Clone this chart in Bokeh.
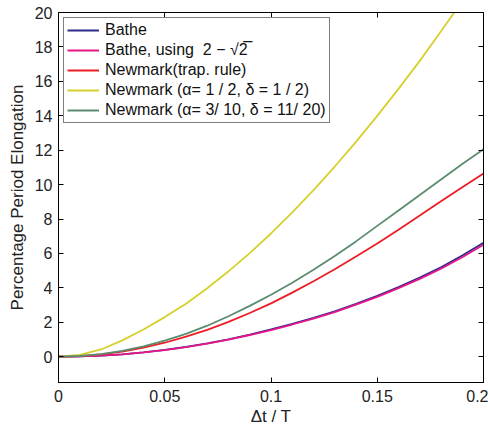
from bokeh.plotting import figure
from bokeh.models import Range1d, LinearAxis, FixedTicker, Legend, LegendItem, CustomJSTickFormatter
from bokeh.embed import file_html
from bokeh.resources import INLINE

# Data
dt_T = [0.0, 0.01, 0.02, 0.03, 0.04, 0.05, 0.06, 0.07, 0.08, 0.09, 0.10,
        0.11, 0.12, 0.13, 0.14, 0.15, 0.16, 0.17, 0.18, 0.19, 0.20]
bathe = [0.0, 0.015, 0.06, 0.14, 0.25, 0.39, 0.57, 0.77, 1.01, 1.28, 1.58,
         1.90, 2.25, 2.64, 3.07, 3.54, 4.05, 4.60, 5.20, 5.88, 6.62]
bathe_2mr2 = [0.0, 0.015, 0.06, 0.14, 0.25, 0.38, 0.56, 0.76, 0.99, 1.26, 1.55,
              1.87, 2.21, 2.59, 3.02, 3.48, 3.98, 4.52, 5.11, 5.78, 6.50]
trap = [0.0, 0.03, 0.13, 0.29, 0.52, 0.81, 1.16, 1.56, 2.02, 2.54, 3.10,
        3.72, 4.38, 5.08, 5.82, 6.58, 7.38, 8.20, 9.03, 9.85, 10.65]
newmark_half = [0.0, 0.10, 0.42, 0.95, 1.58, 2.30, 3.08, 3.98, 4.96, 6.02, 7.16,
                8.38, 9.68, 11.05, 12.48, 13.99, 15.56, 17.19, 18.91, 20.66, 22.47]
newmark_3_10 = [0.0, 0.04, 0.15, 0.34, 0.60, 0.93, 1.33, 1.80, 2.35, 2.95, 3.60,
                4.30, 5.05, 5.85, 6.70, 7.60, 8.50, 9.40, 10.30, 11.20, 12.05]

labels = ["Bathe",
          "Bathe, using  2 \u2212 \u221a2\u0305",
          "Newmark(trap. rule)",
          "Newmark (\u03b1= 1 / 2, \u03b4 = 1 / 2)",
          "Newmark (\u03b1= 3/ 10, \u03b4 = 11/ 20)"]
colors = ["#2b2b8c", "#e8168a", "#ee1c25", "#d6d02c", "#5b8c6e"]
series = [bathe, bathe_2mr2, trap, newmark_half, newmark_3_10]

x_ticks = [0, 0.05, 0.1, 0.15, 0.2]
y_ticks = [0, 2, 4, 6, 8, 10, 12, 14, 16, 18, 20]

FONT = "Liberation Sans"
TXT = "#222222"

p = figure(width=488, height=432, output_backend="svg", toolbar_location=None,
           x_range=Range1d(0, 0.2), y_range=Range1d(-1.5, 20),
           min_border_left=58, min_border_right=5, min_border_top=12, min_border_bottom=50)
p.background_fill_color = "white"
p.border_fill_color = "white"
p.outline_line_color = "black"
p.outline_line_width = 1
p.xgrid.visible = False
p.ygrid.visible = False

renderers = []
for ys, c in zip(series, colors):
    r = p.line(dt_T, ys, line_color=c, line_width=1.8)
    renderers.append(r)

def style_axis(ax, ticks, labels_on=True):
    ax.ticker = FixedTicker(ticks=ticks)
    ax.major_tick_in = 5
    ax.major_tick_out = 0
    ax.minor_tick_line_color = None
    ax.axis_line_color = "black"
    ax.major_tick_line_color = "black"
    ax.major_label_text_font = FONT
    ax.major_label_text_font_size = "16px"
    ax.major_label_text_color = TXT
    ax.axis_label_text_font = FONT
    ax.axis_label_text_font_style = "normal"
    ax.axis_label_text_font_size = "17px"
    ax.axis_label_text_color = TXT
    if not labels_on:
        ax.formatter = CustomJSTickFormatter(code="return ''")
        ax.major_label_standoff = 0

xa = p.xaxis[0]
ya = p.yaxis[0]
style_axis(xa, x_ticks)
style_axis(ya, y_ticks)
xa.formatter = CustomJSTickFormatter(code="return tick == 0 ? '0' : tick.toFixed(Math.round(tick*100) % 10 == 0 ? 1 : 2)")
xa.major_label_standoff = 7
xa.axis_label = "\u0394t / T"
xa.axis_label_standoff = 2
ya.axis_label = "Percentage Period Elongation"
ya.major_label_standoff = 6
ya.axis_label_standoff = 5

top = LinearAxis()
style_axis(top, x_ticks, labels_on=False)
p.add_layout(top, "above")
right = LinearAxis()
style_axis(right, y_ticks, labels_on=False)
p.add_layout(right, "right")

items = [LegendItem(label=l, renderers=[r]) for l, r in zip(labels, renderers)]
legend = Legend(items=items, location="top_left")
legend.label_text_font = FONT
legend.label_text_font_size = "16px"
legend.label_text_color = "#111111"
legend.border_line_color = "black"
legend.border_line_width = 1
legend.background_fill_alpha = 1
legend.glyph_width = 32
legend.glyph_height = 18
legend.label_height = 18
legend.spacing = 2
legend.padding = 3
legend.margin = 5
legend.label_standoff = 6
p.add_layout(legend)

open("out.html", "w").write(file_html(p, INLINE))
